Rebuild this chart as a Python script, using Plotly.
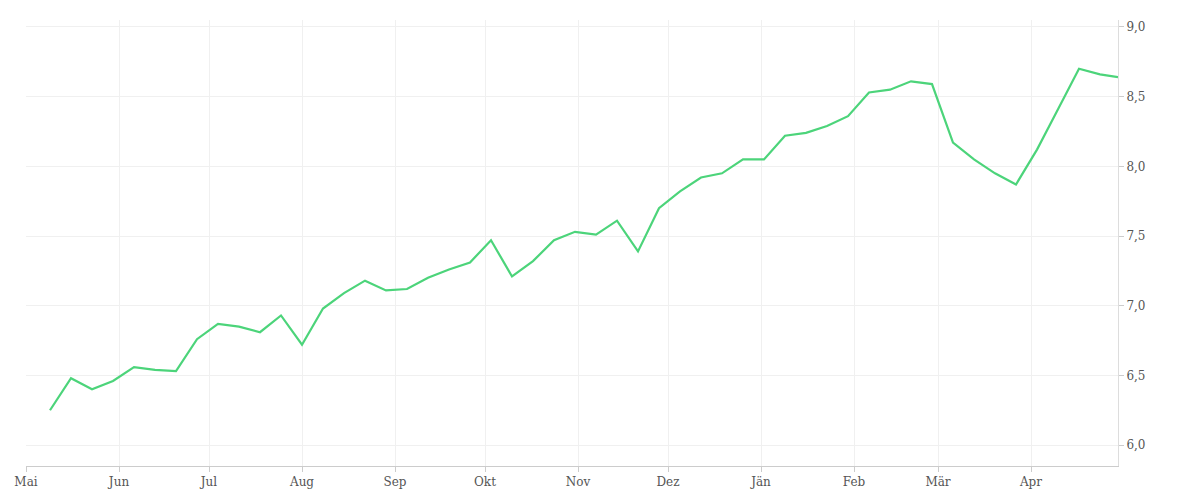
import pandas as pd
import plotly.graph_objects as go

dates = list(pd.date_range("2022-05-09", periods=51, freq="7D")) + [pd.Timestamp("2023-04-30")]
values = [6.25, 6.48, 6.40, 6.46, 6.56, 6.54, 6.53, 6.76, 6.87, 6.85, 6.81, 6.93, 6.72,
          6.98, 7.09, 7.18, 7.11, 7.12, 7.20, 7.26, 7.31, 7.47, 7.21, 7.32, 7.47, 7.53,
          7.51, 7.61, 7.39, 7.70, 7.82, 7.92, 7.95, 8.05, 8.05, 8.22, 8.24, 8.29, 8.36,
          8.53, 8.55, 8.61, 8.59, 8.17, 8.05, 7.95, 7.87, 8.12, 8.41, 8.70, 8.66, 8.64]

month_ticks = pd.date_range("2022-05-01", periods=12, freq="MS")
month_labels = ["Mai", "Jun", "Jul", "Aug", "Sep", "Okt", "Nov", "Dez", "Jän", "Feb", "Mär", "Apr"]

fig = go.Figure()
fig.add_trace(go.Scatter(x=dates, y=values, mode="lines",
                         line=dict(color="#4cd47a", width=2.2)))

fig.update_layout(
    width=1200, height=500,
    margin=dict(l=18, r=90, t=12, b=42),
    plot_bgcolor="white", paper_bgcolor="white",
    showlegend=False,
    separators=",.",
    font=dict(family="DejaVu Serif, serif", size=12, color="#555"),
)
fig.update_xaxes(range=[pd.Timestamp("2022-05-01"), pd.Timestamp("2023-04-30")],
                 tickvals=month_ticks, ticktext=month_labels, automargin=False,
                 showgrid=True, gridcolor="#f0f0f0",
                 showline=True, linecolor="#ccc",
                 ticks="outside", ticklen=5, tickcolor="#ccc")
fig.update_yaxes(side="right", range=[5.85, 9.05], tickvals=[6, 6.5, 7, 7.5, 8, 8.5, 9],
                 tickformat=".1f", showgrid=True, gridcolor="#f0f0f0", automargin=False,
                 showline=True, linecolor="#ddd",
                 ticks="outside", ticklen=5, tickcolor="#ccc", zeroline=False)

fig.write_html("out.html")
